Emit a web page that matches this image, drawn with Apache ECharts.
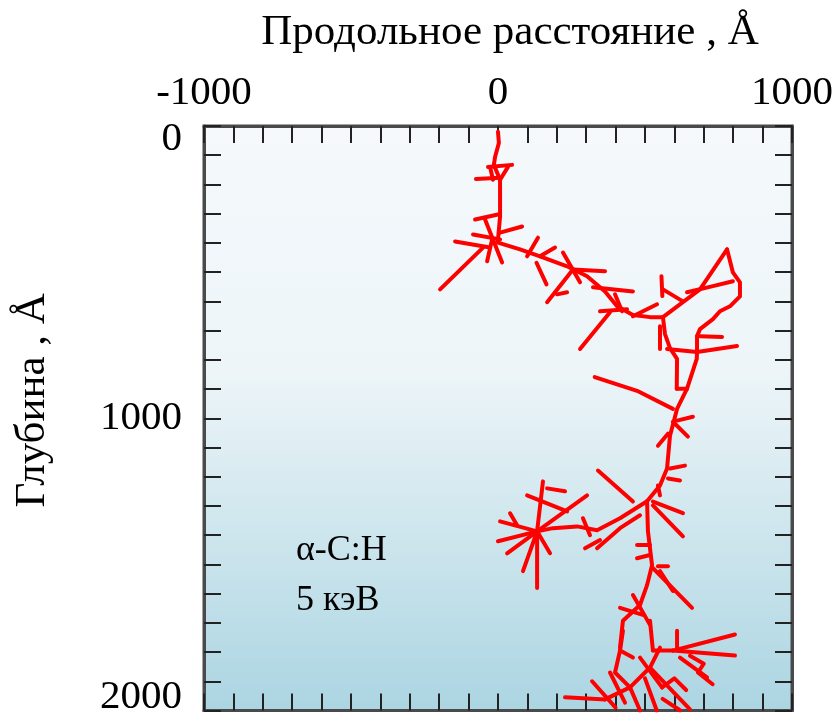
<!DOCTYPE html>
<html>
<head>
<meta charset="utf-8">
<script src="https://cdn.jsdelivr.net/npm/echarts@6/dist/echarts.min.js"></script>
<style>
html,body{margin:0;padding:0;background:#fff;}
#chart{width:837px;height:718px;}
</style>
</head>
<body>
<div id="chart"></div>
<script>
// Axis ranges and tick labels
const xRange = [-1000, 1000];
const yRange = [0, 2000];
const tickStep = 100;
const xTickLabels = [-1000, 0, 1000];
const yTickLabels = [0, 1000, 2000];
const xName = 'Продольное расстояние , Å';
const yName = 'Глубина , Å';
const noteLines = ['α-C:H', '5 кэВ'];

// Track polylines: [lateral Å, depth Å]
const trunkUpper = [
  [[0,20],[3,58],[-10,106],[-14,133],[7,184],[7,310],[0,388],[0,399],[75,422],[143,446],[235,480],[303,514],[364,566],[405,617],[459,647],[517,654],[561,654]]
];
const topBranches = [
  [[-75,181],[7,177]],
  [[-34,140],[48,133]],
  [[7,184],[34,140]],
  [[-27,140],[-17,184]],
  [[-78,320],[0,303]],
  [[-146,395],[-27,416]],
  [[-85,371],[7,388]],
  [[-44,320],[14,467]],
  [[7,365],[82,344]],
  [[-37,463],[-20,388]],
  [[-197,559],[-51,416]]
];
const midBranches = [
  [[136,382],[99,446]],
  [[131,468],[165,542]],
  [[143,446],[194,416]],
  [[221,433],[279,535]],
  [[167,603],[255,491]],
  [[255,491],[364,497]],
  [[201,576],[235,569]],
  [[323,552],[459,566]],
  [[347,634],[439,627]],
  [[279,763],[381,637]],
  [[398,576],[422,634]],
  [[459,651],[541,610]]
];
const loopTracks = [
  [[561,654],[629,603],[687,559],[779,422]],
  [[779,422],[799,501],[823,535],[823,583],[789,617],[755,634],[731,661],[687,695],[677,719]],
  [[643,569],[731,548],[799,531]],
  [[556,514],[559,582]],
  [[561,559],[629,600]],
  [[687,719],[762,722]],
  [[677,773],[813,753]]
];
const midTrunk = [
  [[561,654],[568,712],[585,760],[609,797],[608,899]],
  [[677,719],[677,773],[676,797],[643,899]],
  [[608,899],[643,899]],
  [[575,763],[677,773]],
  [[551,685],[551,763]],
  [[329,859],[473,906],[595,968]],
  [[643,899],[609,968],[585,1060],[575,1172],[551,1230],[507,1284]],
  [[609,1008],[663,995]],
  [[595,1012],[646,1063]],
  [[578,1053],[544,1094]],
  [[585,1172],[636,1162]],
  [[578,1206],[619,1213]],
  [[544,1230],[551,1264]],
  [[340,1179],[459,1285]],
  [[527,1285],[629,1325]],
  [[527,1298],[629,1404]]
];
const starTracks = [
  [[507,1284],[415,1342],[337,1383],[269,1370],[187,1376],[133,1387]],
  [[483,1332],[415,1376],[337,1445]],
  [[133,1387],[303,1264]],
  [[133,1387],[153,1216]],
  [[133,1387],[7,1353]],
  [[133,1387],[0,1421]],
  [[133,1387],[133,1581]],
  [[133,1387],[177,1462]],
  [[133,1387],[85,1523]],
  [[133,1387],[31,1462]],
  [[99,1264],[235,1319]],
  [[167,1240],[228,1250]],
  [[41,1325],[65,1366]],
  [[289,1342],[313,1400]],
  [[296,1445],[347,1417]]
];
const lowerTrunk = [
  [[507,1284],[510,1387],[524,1503],[507,1571],[483,1639],[425,1693],[415,1785]],
  [[473,1434],[517,1434]],
  [[473,1479],[517,1468]],
  [[544,1506],[578,1506]],
  [[527,1513],[660,1649]],
  [[551,1523],[595,1591]],
  [[415,1649],[493,1673]],
  [[459,1605],[517,1707]]
];
const bottomCluster = [
  [[425,1727],[415,1795],[459,1819]],
  [[517,1693],[527,1795]],
  [[595,1795],[806,1740]],
  [[595,1795],[806,1812]],
  [[619,1819],[711,1887]],
  [[609,1727],[609,1785]],
  [[527,1795],[595,1795]],
  [[653,1813],[700,1840],[680,1870],[730,1910]],
  [[228,1955],[364,1962]],
  [[364,1962],[449,1921],[517,1853],[551,1785]],
  [[449,1921],[483,2000]],
  [[381,1870],[432,1973]],
  [[517,1853],[653,1996]],
  [[483,1819],[558,1921]],
  [[415,1795],[398,1870],[449,1921]],
  [[558,1921],[600,1890],[640,1930]],
  [[320,1900],[400,1990]],
  [[500,1890],[540,2000]],
  [[560,1960],[620,2000]]
];

const allTracks = [].concat(trunkUpper, topBranches, midBranches, loopTracks, midTrunk, starTracks, lowerTrunk, bottomCluster);

const serif = 'Liberation Serif';
const tickStyle = { show: true, inside: true, length: 17, lineStyle: { color: '#222', width: 2 } };

function xAxisDef(pos, labels) {
  return {
    type: 'value', position: pos, min: xRange[0], max: xRange[1], interval: tickStep,
    axisLine: { show: true, onZero: false, lineStyle: { color: '#4a4a4a', width: 3 } },
    axisTick: tickStyle,
    splitLine: { show: false },
    axisLabel: labels ? {
      show: true, interval: 0, margin: 12, color: '#000', fontFamily: serif, fontSize: 41,
      formatter: v => xTickLabels.includes(v) ? String(v) : ''
    } : { show: false },
    name: labels ? xName : '', nameLocation: 'middle', nameGap: 72,
    nameTextStyle: { fontFamily: serif, fontSize: 43, color: '#000', padding: [0, 0, 0, 24] }
  };
}
function yAxisDef(pos, labels) {
  return {
    type: 'value', position: pos, min: yRange[0], max: yRange[1], interval: tickStep, inverse: true,
    axisLine: { show: true, onZero: false, lineStyle: { color: '#4a4a4a', width: 3 } },
    axisTick: tickStyle,
    splitLine: { show: false },
    axisLabel: labels ? {
      show: true, interval: 0, margin: 22, color: '#000', fontFamily: serif, fontSize: 41,
      formatter: v => {
        if (!yTickLabels.includes(v)) return '';
        if (v === yRange[0]) return '{first|' + v + '}';
        if (v === yRange[1]) return '{last|' + v + '}';
        return String(v);
      },
      rich: {
        first: { fontFamily: serif, fontSize: 41, color: '#000', padding: [26, 0, 0, 0] },
        last: { fontFamily: serif, fontSize: 41, color: '#000', padding: [0, 0, 26, 0] }
      }
    } : { show: false },
    name: labels ? yName : '', nameLocation: 'middle', nameGap: 150, nameRotate: 90,
    nameTextStyle: { fontFamily: serif, fontSize: 43, color: '#000', padding: [0, 0, 0, 36] }
  };
}

const chart = echarts.init(document.getElementById('chart'), null, { renderer: 'canvas' });
chart.setOption({
  animation: false,
  backgroundColor: '#fff',
  grid: {
    left: 204, top: 126, width: 588, height: 587,
    show: true, borderWidth: 3, borderColor: '#4a4a4a',
    backgroundColor: {
      type: 'linear', x: 0, y: 0, x2: 0, y2: 1,
      colorStops: [
        { offset: 0, color: '#f5f9fc' },
        { offset: 0.42, color: '#edf5f8' },
        { offset: 1, color: '#abd5e2' }
      ]
    }
  },
  xAxis: [xAxisDef('top', true), xAxisDef('bottom', false)],
  yAxis: [yAxisDef('left', true), yAxisDef('right', false)],
  graphic: [{
    type: 'text', left: 296, top: 526,
    style: { text: noteLines.join('\n'), fontFamily: serif, fontSize: 36, lineHeight: 50, fill: '#000' }
  }],
  series: [{
    type: 'lines', coordinateSystem: 'cartesian2d', xAxisIndex: 0, yAxisIndex: 0,
    polyline: true, silent: true,
    lineStyle: { color: '#ff0000', width: 4, opacity: 1, cap: 'round', join: 'round' },
    data: allTracks.map(c => ({ coords: c }))
  }]
});
</script>
</body>
</html>
